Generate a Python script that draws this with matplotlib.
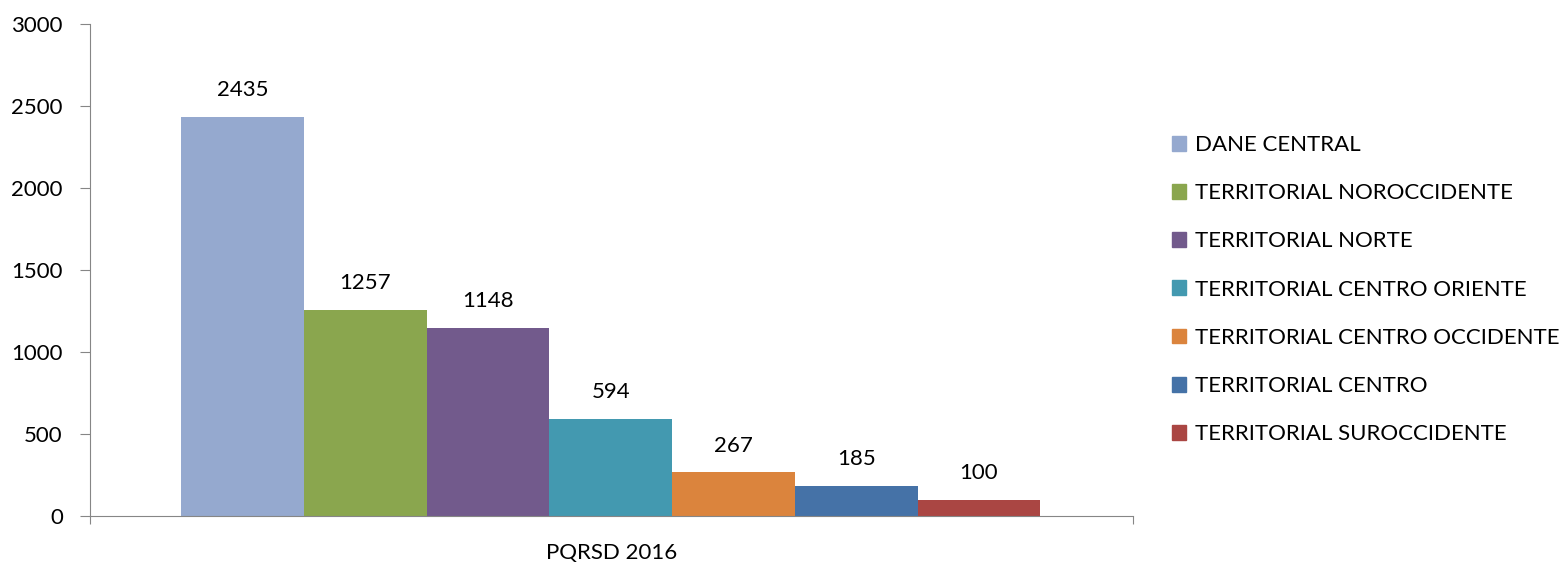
import matplotlib
matplotlib.use("Agg")
import matplotlib.pyplot as plt
from matplotlib.patches import Patch

plt.rcParams['font.family'] = ['Lato', 'DejaVu Sans']

category = "PQRSD 2016"
offices = ["DANE CENTRAL", "TERRITORIAL NOROCCIDENTE", "TERRITORIAL NORTE",
           "TERRITORIAL CENTRO ORIENTE", "TERRITORIAL CENTRO OCCIDENTE",
           "TERRITORIAL CENTRO", "TERRITORIAL SUROCCIDENTE"]
counts = [2435, 1257, 1148, 594, 267, 185, 100]
colors = ["#95A9CF", "#8AA64E", "#725A8C", "#4399B0", "#DB843D", "#4572A7", "#AA4643"]
yticks = [0, 500, 1000, 1500, 2000, 2500, 3000]

fig = plt.figure(figsize=(15.63, 5.63), dpi=100)
ax = fig.add_axes([90 / 1563, 47 / 563, 1043 / 1563, 492 / 563])

width = 0.1177
start = -0.5 + 91 / 1043
for i, (name, val, col) in enumerate(zip(offices, counts, colors)):
    x = start + width * (i + 0.5)
    ax.bar(x, val, width=width, color=col, label=name)
    ax.annotate(str(val), (x, val), xytext=(0, 12), textcoords="offset points",
                ha="center", va="bottom", fontsize=16)

ax.set_xlim(-0.5, 0.5)
ax.set_ylim(0, 3000)
ax.set_yticks(yticks)
ax.set_xticks([-0.5, 0.5])
ax.set_xticklabels(["", ""])
ax.text(0, -0.055, category, transform=ax.get_xaxis_transform(), ha="center", va="top", fontsize=16)
ax.tick_params(axis="y", labelsize=16, length=7, color="#868686", pad=12.5)
ax.tick_params(axis="x", length=6, color="#868686")
for s in ["top", "right"]:
    ax.spines[s].set_visible(False)
for s in ["left", "bottom"]:
    ax.spines[s].set_color("#868686")

handles = [Patch(color=c) for c in colors]
fig.legend(handles, offices, loc="upper left", bbox_to_anchor=(1163 / 1563, 1 - 126 / 563),
           frameon=False, fontsize=16, handlelength=0.65, handleheight=0.65,
           handletextpad=0.4, labelspacing=1.27, borderaxespad=0)

fig.savefig("out.png", dpi=100)
